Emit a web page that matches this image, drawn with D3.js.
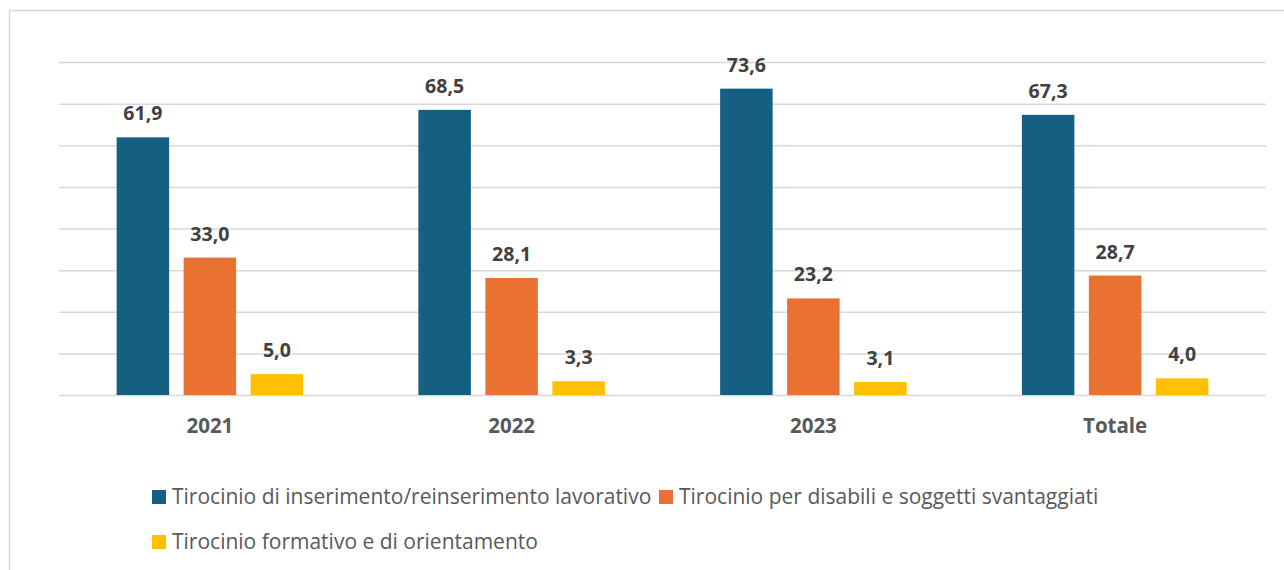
<!DOCTYPE html>
<html>
<head>
<meta charset="utf-8">
<script src="https://cdn.jsdelivr.net/npm/d3@7"></script>
<style>
  html, body { margin: 0; padding: 0; background: #fff; }
  svg { display: block; }
  text { font-family: "Open Sans", "Noto Sans", sans-serif; }
</style>
</head>
<body>
<svg id="chart" width="1284" height="570"></svg>
<script>
// Periods on the x axis
const categories = ["2021", "2022", "2023", "Totale"];
// Series names (legend order)
const seriesNames = [
  "Tirocinio di inserimento/reinserimento lavorativo",
  "Tirocinio per disabili e soggetti svantaggiati",
  "Tirocinio formativo e di orientamento"
];
// Percentages per series, one value per period
const inserimento = [61.9, 68.5, 73.6, 67.3];
const disabili = [33.0, 28.1, 23.2, 28.7];
const formativo = [5.0, 3.3, 3.1, 4.0];
// Gridline values
const gridTicks = [0, 10, 20, 30, 40, 50, 60, 70, 80];

const seriesValues = [inserimento, disabili, formativo];
const colors = ["#156082", "#E97132", "#FFC000"];

const svg = d3.select("#chart");

// Outer frame
svg.append("rect")
  .attr("x", 9.5).attr("y", 10.5)
  .attr("width", 1300).attr("height", 600)
  .attr("fill", "none").attr("stroke", "#D9D9D9").attr("stroke-width", 1.5);

const x0 = d3.scaleBand().domain(categories).range([59, 1266]).paddingInner(0).paddingOuter(0);
const x1 = d3.scaleBand().domain(d3.range(seriesNames.length)).range([0, x0.bandwidth()])
  .paddingInner(0.2164).paddingOuter(0.86);
const y = d3.scaleLinear().domain([0, 80]).range([395, 62]);

// Horizontal gridlines
const yAxis = d3.axisLeft(y).tickValues(gridTicks).tickSize(-(1266 - 59)).tickFormat("");
const gy = svg.append("g").attr("transform", "translate(59,0)").call(yAxis);
gy.select(".domain").remove();
gy.selectAll(".tick line").attr("stroke", "#D9D9D9").attr("stroke-width", 1.5);

// Bars
const fmt = v => d3.format(".1f")(v).replace(".", ",");
const groups = svg.append("g").selectAll("g")
  .data(categories)
  .join("g")
  .attr("transform", d => `translate(${x0(d)},0)`);

groups.selectAll("rect")
  .data((c, ci) => seriesValues.map((vals, si) => ({ si, v: vals[ci] })))
  .join("rect")
  .attr("x", d => x1(d.si))
  .attr("width", x1.bandwidth())
  .attr("y", d => y(d.v))
  .attr("height", d => y(0) - y(d.v))
  .attr("fill", d => colors[d.si]);

// Value labels
groups.selectAll("text")
  .data((c, ci) => seriesValues.map((vals, si) => ({ si, v: vals[ci] })))
  .join("text")
  .attr("x", d => x1(d.si) + x1.bandwidth() / 2)
  .attr("y", d => y(d.v) - 17)
  .attr("text-anchor", "middle")
  .attr("font-size", 19.5)
  .attr("font-weight", 700)
  .attr("fill", "#404040")
  .text(d => fmt(d.v));

// Category axis labels
const xAxis = d3.axisBottom(x0).tickSize(0).tickPadding(0);
const gx = svg.append("g").attr("transform", "translate(0,395)").call(xAxis);
gx.select(".domain").remove();
gx.selectAll(".tick text")
  .attr("dy", 0).attr("y", 38)
  .attr("font-size", 20.5)
  .attr("font-weight", 700)
  .attr("fill", "#595959")
  .attr("font-family", "'Open Sans', sans-serif");

// Legend
const legendPos = [[152, 490], [659, 490], [152, 535]];
const legend = svg.append("g").selectAll("g")
  .data(seriesNames)
  .join("g")
  .attr("transform", (d, i) => `translate(${legendPos[i][0]},${legendPos[i][1]})`);
legend.append("rect").attr("width", 14).attr("height", 14).attr("fill", (d, i) => colors[i]);
legend.append("text")
  .attr("x", 20).attr("y", 14)
  .attr("font-size", 21)
  .attr("fill", "#595959")
  .text(d => d);
</script>
</body>
</html>
